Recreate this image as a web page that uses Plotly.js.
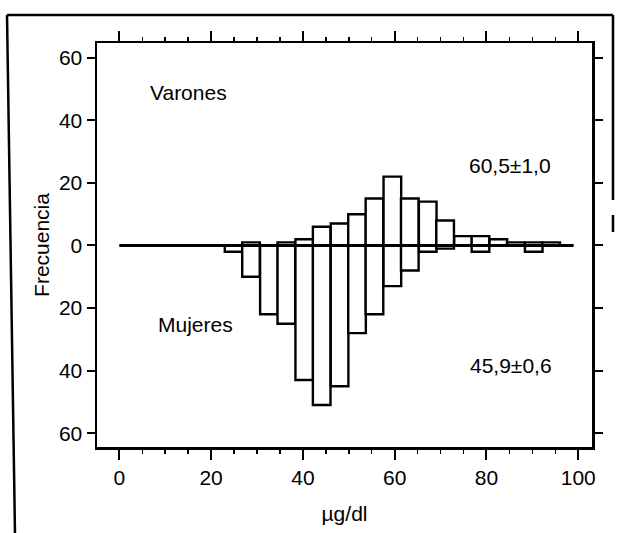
<!DOCTYPE html>
<html>
<head>
<meta charset="utf-8">
<script src="https://cdn.plot.ly/plotly-3.0.1.min.js"></script>
<style>
html,body{margin:0;padding:0;background:#fff;}
#chart{width:618px;height:533px;}
</style>
</head>
<body>
<div id="chart"></div>
<script>
// Bin centres (µg/dl) of the histogram
var binCenters = [24.9, 28.7, 32.6, 36.4, 40.3, 44.1, 48.0, 51.8, 55.6, 59.5, 63.3, 67.2, 71.0, 74.9, 78.7, 82.6, 86.4, 90.3, 94.1];
var binWidth = 3.84;
// Frecuencia: Varones (upward) and Mujeres (downward, negative)
var varones = [0, 1, 0, 1, 2, 6, 7, 10, 15, 22, 15, 14, 8, 3, 3, 2, 1, 1, 1];
var mujeres = [-2, -10, -22, -25, -43, -51, -45, -28, -22, -13, -8, -2, -1, 0, -2, 0, 0, -2, 0];
// zero baseline
var baseX = [0, 99];
var baseY = [0, 0];
// axis ticks
var xTickVals = [0, 20, 40, 60, 80, 100];
var xTickText = ['0', '20', '40', '60', '80', '100'];
var yTickVals = [60, 40, 20, 0, -20, -40, -60];
var yTickText = ['60', '40', '20', '0', '20', '40', '60'];
// labels
var labelText = ['Varones', '60,5\u00b11,0', 'Mujeres', '45,9\u00b10,6'];
var labelX = [15, 85.1, 16.5, 85.3];
var labelY = [49, 25.4, -25.1, -38.5];

var FONT = '"Liberation Sans", Arial, Helvetica, sans-serif';

var barStyle = {color: '#ffffff', line: {color: '#000000', width: 2.4}};

var traces = [
  {type: 'bar', name: 'Mujeres', x: binCenters, y: mujeres, width: binWidth,
   marker: barStyle, hoverinfo: 'x+y'},
  {type: 'bar', name: 'Varones', x: binCenters, y: varones, width: binWidth,
   marker: barStyle, hoverinfo: 'x+y'},
  {type: 'scatter', mode: 'lines', x: baseX, y: baseY, line: {color: '#000', width: 3},
   hoverinfo: 'skip', showlegend: false}
];

var annotations = labelText.map(function (t, i) {
  return {x: labelX[i], y: labelY[i], xref: 'x', yref: 'y', text: t, showarrow: false,
          font: {family: FONT, size: 21, color: '#000'}};
});

function ln(x0, y0, x1, y1) {
  return {type: 'line', xref: 'paper', yref: 'paper', x0: x0, y0: y0, x1: x1, y1: y1,
          line: {color: '#000', width: 2.5}};
}

var layout = {
  width: 618, height: 533,
  margin: {l: 97, r: 26, t: 43, b: 86},
  paper_bgcolor: '#fff', plot_bgcolor: '#fff',
  showlegend: false,
  barmode: 'overlay',
  font: {family: FONT, size: 21, color: '#000'},
  xaxis: {
    range: [-4.86, 103], showgrid: false, zeroline: false,
    showline: true, linecolor: '#000', linewidth: 2.5, mirror: 'ticks',
    tickmode: 'array', tickvals: xTickVals, ticktext: xTickText,
    ticks: 'outside', ticklen: 10, tickwidth: 2, tickcolor: '#000',
    ticklabelstandoff: 0,
    minor: {dtick: 5, ticks: 'outside', ticklen: 4, tickwidth: 1.5, tickcolor: '#000', showgrid: false},
    tickfont: {family: FONT, size: 21},
    title: {text: '\u00b5g/dl', font: {family: FONT, size: 21}, standoff: 19}
  },
  yaxis: {
    range: [-64.4, 64.7], showgrid: false, zeroline: false,
    showline: true, linecolor: '#000', linewidth: 2.5, mirror: 'ticks',
    tickmode: 'array', tickvals: yTickVals, ticktext: yTickText,
    ticks: 'outside', ticklen: 8, tickwidth: 2, tickcolor: '#000',
    tickfont: {family: FONT, size: 21},
    title: {text: 'Frecuencia', font: {family: FONT, size: 21}, standoff: 4}
  },
  annotations: annotations,
  shapes: [
    ln(-0.1818, 1.0693, 1.0424, 1.0693),
    ln(-0.1818, 1.0693, -0.1657, -0.2129),
    ln(1.0424, 1.0693, 1.0424, 0.6114),
    ln(1.0424, 0.5743, 1.0424, 0.5322)
  ]
};

Plotly.newPlot('chart', traces, layout, {displayModeBar: false, staticPlot: true});
</script>
</body>
</html>
